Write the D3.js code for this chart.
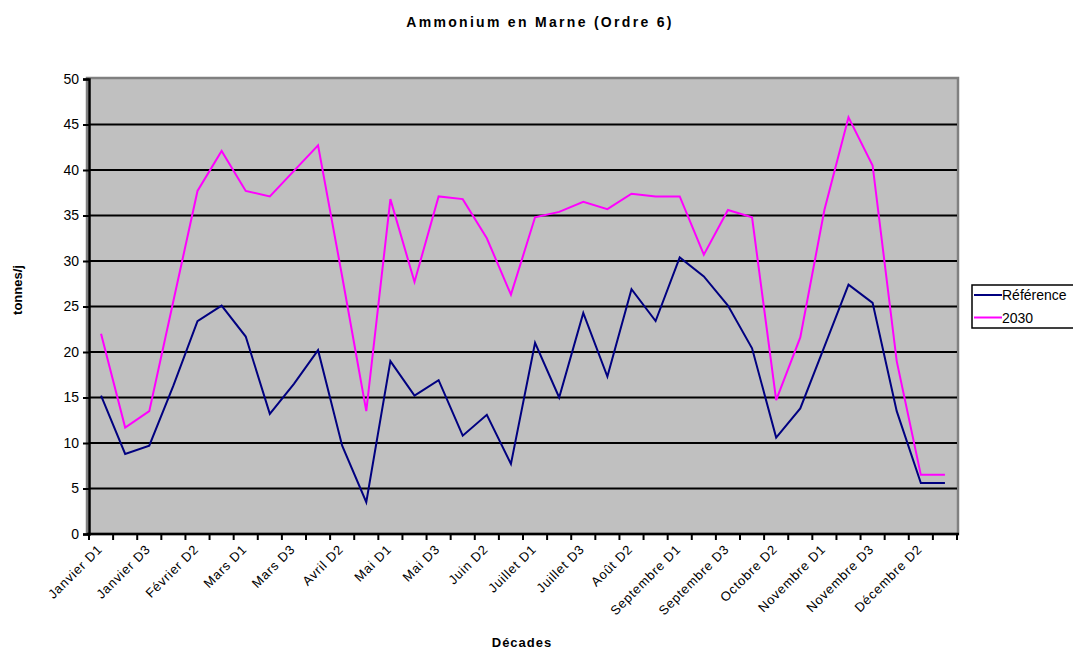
<!DOCTYPE html>
<html>
<head>
<meta charset="utf-8">
<title>Ammonium en Marne (Ordre 6)</title>
<script src="https://cdn.jsdelivr.net/npm/d3@7"></script>
<style>
  body { margin: 0; background: #fff; }
  svg text { font-family: "Liberation Sans", Arial, sans-serif; }
</style>
</head>
<body>
<div id="chart"></div>
<script>
// décades de l'année
var mois = ["Janvier", "Février", "Mars", "Avril", "Mai", "Juin", "Juillet",
            "Août", "Septembre", "Octobre", "Novembre", "Décembre"];
var decades = [];
mois.forEach(function(m) { ["D1", "D2", "D3"].forEach(function(d) { decades.push(m + " " + d); }); });

var reference = [15.2, 8.8, 9.7, 16.3, 23.4, 25.1, 21.7, 13.2, 16.5, 20.2, 9.7, 3.5,
                 19.0, 15.2, 16.9, 10.8, 13.1, 7.7, 21.0, 15.0, 24.3, 17.3, 26.9, 23.4,
                 30.4, 28.3, 25.1, 20.4, 10.6, 13.8, 20.6, 27.4, 25.4, 13.5, 5.6, 5.6];
var scen2030 = [22.0, 11.7, 13.5, 25.6, 37.7, 42.1, 37.7, 37.1, 39.9, 42.7, 28.3, 13.5,
                36.8, 27.7, 37.1, 36.8, 32.5, 26.3, 34.8, 35.4, 36.5, 35.7, 37.4, 37.1,
                37.1, 30.7, 35.6, 34.8, 14.7, 21.6, 35.6, 45.8, 40.5, 19.0, 6.5, 6.5];
var yTicks = [0, 5, 10, 15, 20, 25, 30, 35, 40, 45, 50];

var series = [
  {name: "Référence", values: reference, color: "#000080"},
  {name: "2030", values: scen2030, color: "#FF00FF"}
];

var W = 1073, H = 649;
var margin = {top: 79, left: 89, right: 116, bottom: 115};
var width = W - margin.left - margin.right,
    height = H - margin.top - margin.bottom;

var svg = d3.select("#chart").append("svg")
    .attr("width", W).attr("height", H);

var x = d3.scaleBand().domain(decades).range([0, width]);
var y = d3.scaleLinear().domain([0, 50]).range([height, 0]);

var g = svg.append("g")
    .attr("transform", "translate(" + margin.left + "," + margin.top + ")");

// plot area
g.append("rect")
    .attr("x", -2).attr("y", -1)
    .attr("width", width + 3).attr("height", height + 1)
    .attr("fill", "#C0C0C0")
    .attr("stroke", "#808080").attr("stroke-width", 2.5);

// gridlines
g.selectAll(".grid").data(yTicks.filter(function(t) { return t > 0 && t < 50; }))
  .enter().append("line")
    .attr("x1", 0).attr("x2", width)
    .attr("y1", function(d) { return y(d); }).attr("y2", function(d) { return y(d); })
    .attr("stroke", "#000").attr("stroke-width", 2);

// lines
var line = d3.line()
    .x(function(d, i) { return x(decades[i]) + x.bandwidth() / 2; })
    .y(function(d) { return y(d); });

series.forEach(function(s) {
  g.append("path")
      .datum(s.values)
      .attr("d", line)
      .attr("fill", "none")
      .attr("stroke", s.color)
      .attr("stroke-width", 2);
});

// y axis
var yAxis = g.append("g")
    .call(d3.axisLeft(y).tickValues(yTicks).tickSize(6).tickPadding(4));
yAxis.select(".domain").attr("stroke", "#000").attr("stroke-width", 2.5);
yAxis.selectAll(".tick line").attr("stroke", "#000").attr("stroke-width", 2);
yAxis.selectAll("text").attr("font-size", "14px").attr("fill", "#000");

// x axis: ticks at category boundaries, one label in two
var xAxis = g.append("g").attr("transform", "translate(0," + height + ")");
xAxis.append("line")
    .attr("x1", -2).attr("x2", width + 2)
    .attr("stroke", "#000").attr("stroke-width", 2.5);
xAxis.selectAll(".xt").data(d3.range(decades.length + 1))
  .enter().append("line")
    .attr("x1", function(i) { return i * x.step(); })
    .attr("x2", function(i) { return i * x.step(); })
    .attr("y1", 0).attr("y2", 6)
    .attr("stroke", "#000").attr("stroke-width", 2);
xAxis.selectAll(".xl").data(decades.filter(function(d, i) { return i % 2 === 0; }))
  .enter().append("text")
    .attr("text-anchor", "end")
    .attr("font-size", "13px")
    .attr("letter-spacing", "0.8px")
    .attr("transform", function(d) {
      return "translate(" + (x(d) + x.bandwidth() / 2 + 2) + ",16) rotate(-45)";
    })
    .text(function(d) { return d; });

// titles
svg.append("text")
    .attr("x", 540).attr("y", 27)
    .attr("text-anchor", "middle")
    .attr("font-size", "14px").attr("font-weight", "bold")
    .attr("letter-spacing", "2.3px")
    .text("Ammonium en Marne (Ordre 6)");

svg.append("text")
    .attr("x", 522).attr("y", 647)
    .attr("text-anchor", "middle")
    .attr("font-size", "13px").attr("font-weight", "bold")
    .attr("letter-spacing", "1px")
    .text("Décades");

svg.append("text")
    .attr("transform", "translate(22,290) rotate(-90)")
    .attr("text-anchor", "middle")
    .attr("font-size", "13px").attr("font-weight", "bold")
    .text("tonnes/j");

// legend
var lg = svg.append("g").attr("transform", "translate(972,285)");
lg.append("rect")
    .attr("width", 110).attr("height", 43)
    .attr("fill", "#fff").attr("stroke", "#000").attr("stroke-width", 1.5);
series.forEach(function(s, i) {
  var ly = 10 + i * 22.5;
  lg.append("line")
      .attr("x1", 2).attr("x2", 30).attr("y1", ly).attr("y2", ly)
      .attr("stroke", s.color).attr("stroke-width", 2);
  lg.append("text")
      .attr("x", 30).attr("y", ly + 5)
      .attr("font-size", "14px")
      .text(s.name);
});
</script>
</body>
</html>
